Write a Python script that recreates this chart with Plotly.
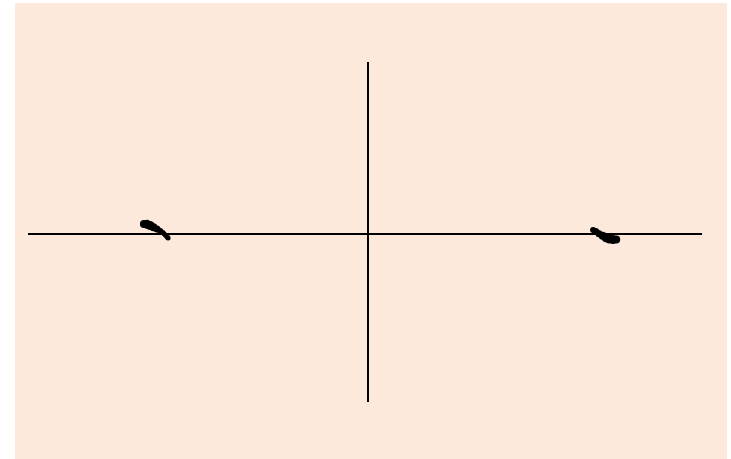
import plotly.graph_objects as go

# Axis cross (data units)
h_axis_x = [-2.0, 1.965]
h_axis_y = [0.0, 0.0]
v_axis_x = [0.0, 0.0]
v_axis_y = [1.012, -0.988]

# Left cluster
left_x = [-1.318, -1.300, -1.282, -1.262, -1.241, -1.222, -1.206, -1.176]
left_y = [0.059, 0.057, 0.050, 0.040, 0.029, 0.018, 0.008, -0.024]
left_size = [8, 9, 9, 8, 7, 6, 5, 5]

# Right cluster
right_x = [1.324, 1.340, 1.359, 1.380, 1.400, 1.420, 1.441, 1.460]
right_y = [0.024, 0.014, 0.002, -0.010, -0.022, -0.030, -0.033, -0.033]
right_size = [6, 7, 7, 8, 9, 9, 9, 8]

fig = go.Figure()
fig.add_trace(go.Scatter(x=h_axis_x, y=h_axis_y, mode="lines",
                         line=dict(color="black", width=2), hoverinfo="skip"))
fig.add_trace(go.Scatter(x=v_axis_x, y=v_axis_y, mode="lines",
                         line=dict(color="black", width=2), hoverinfo="skip"))
fig.add_trace(go.Scatter(x=left_x, y=left_y, mode="lines+markers",
                         line=dict(color="black", width=5),
                         marker=dict(color="black", size=left_size, opacity=1,
                                     line=dict(width=0))))
fig.add_trace(go.Scatter(x=right_x, y=right_y, mode="lines+markers",
                         line=dict(color="black", width=5),
                         marker=dict(color="black", size=right_size, opacity=1,
                                     line=dict(width=0))))

fig.update_layout(
    width=731, height=459,
    margin=dict(l=15, r=4, t=3, b=0),
    paper_bgcolor="white",
    plot_bgcolor="rgb(252,233,219)",
    showlegend=False,
    xaxis=dict(range=[-2.0765, 2.1118], visible=False, fixedrange=True),
    yaxis=dict(range=[-1.3235, 1.3588], visible=False, fixedrange=True),
)

fig.write_html("out.html")
